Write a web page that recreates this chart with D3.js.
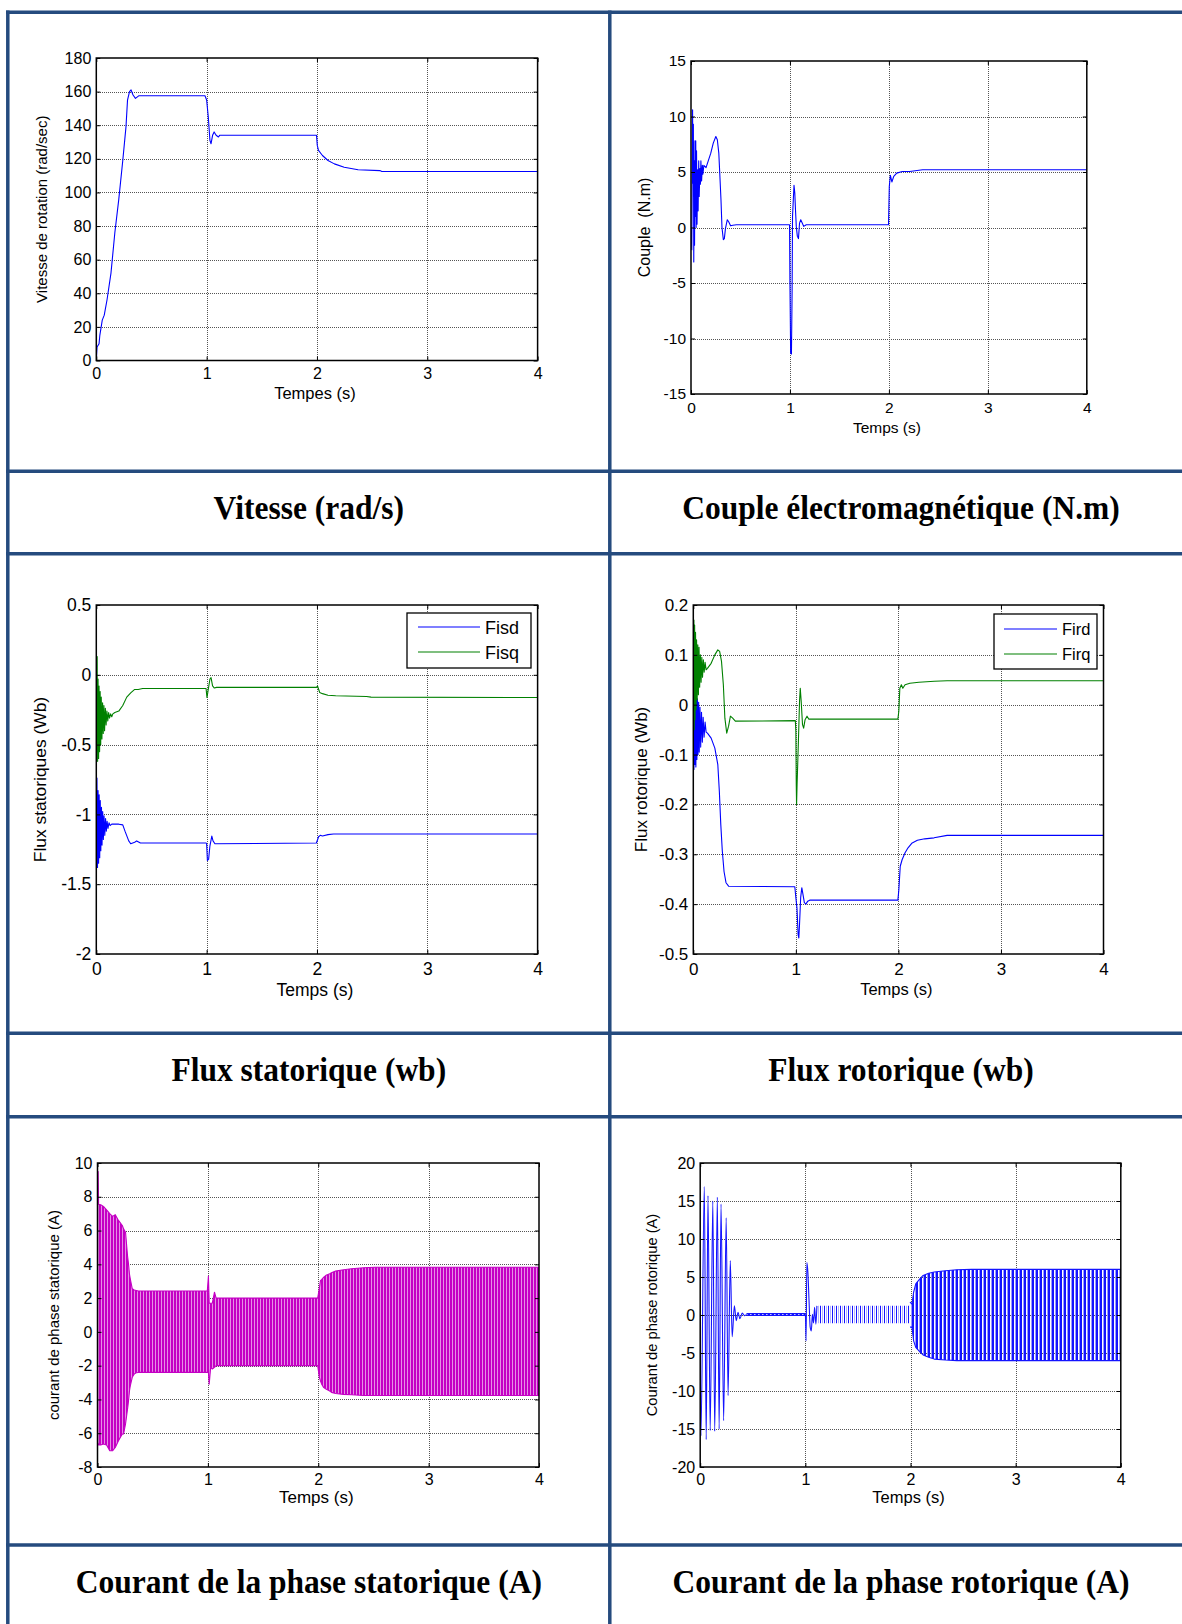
<!DOCTYPE html>
<html>
<head>
<meta charset="utf-8">
<script src="https://cdn.jsdelivr.net/npm/d3@7"></script>
<style>
body { margin: 0; background: #fff; }
svg { display: block; }
.caption { font-family: "Times New Roman", "Liberation Serif", serif; font-weight: bold; fill: #000; }
.lbl { font-family: Arial, "Liberation Sans", sans-serif; fill: #000; }
.grid { stroke: #555; stroke-width: 1; stroke-dasharray: 1,1; shape-rendering: crispEdges; }
</style>
</head>
<body>
<svg id="page" width="1182" height="1624"></svg>
<script>
// ticks
var timeTicks = [0, 1, 2, 3, 4]
var vitesseTicks = [0, 20, 40, 60, 80, 100, 120, 140, 160, 180]
var coupleTicks = [-15, -10, -5, 0, 5, 10, 15]
var fluxStatTicks = [-2, -1.5, -1, -0.5, 0, 0.5]
var fluxRotTicks = [-0.5, -0.4, -0.3, -0.2, -0.1, 0, 0.1, 0.2]
var courantStatTicks = [-8, -6, -4, -2, 0, 2, 4, 6, 8, 10]
var courantRotTicks = [-20, -15, -10, -5, 0, 5, 10, 15, 20]

var captions = ["Vitesse (rad/s)", "Couple électromagnétique (N.m)",
	"Flux statorique (wb)", "Flux rotorique (wb)",
	"Courant de la phase statorique (A)", "Courant de la phase rotorique (A)"]
var fluxStatNames = ["Fisd", "Fisq"]
var fluxRotNames = ["Fird", "Firq"]

// [t, value]
var vitesse = [[0,0],[0.007,8],[0.025,10],[0.032,15],[0.054,24],[0.072,27],[0.097,36],[0.133,52],
	[0.168,76],[0.204,96],[0.24,119],[0.269,139],[0.283,155],[0.301,160],[0.315,161],[0.333,158],
	[0.355,156],[0.384,157.5],[0.985,157.5],[1.0,155],[1.015,145],[1.03,131],[1.04,129],[1.054,134],
	[1.068,136],[1.086,134],[1.107,133],[1.118,134],[1.996,134],[2.003,128],[2.014,125],[2.05,122],
	[2.1,119],[2.158,117],[2.247,115],[2.373,113.5],[2.57,113],[2.588,112.5],[4,112.5]]

var couple = [[0,0],[0.008,-2],[0.016,10.6],[0.02,4],[0.024,9.3],[0.028,-3.1],[0.032,6],[0.036,-1.6],
	[0.04,7.8],[0.044,1],[0.048,7.8],[0.052,0],[0.056,6.9],[0.061,0.3],[0.067,5.2],[0.072,1.5],[0.078,6],
	[0.083,2.8],[0.09,5.3],[0.095,3.9],[0.1,6],[0.107,4.2],[0.115,5.6],[0.12,4.8],[0.13,5.6],[0.152,5.4],
	[0.2,6.7],[0.225,7.6],[0.251,8.2],[0.266,7.9],[0.281,6.7],[0.29,5],[0.303,2.5],[0.313,0],[0.327,-1.1],
	[0.337,-1],[0.348,-0.1],[0.367,0.7],[0.382,0.5],[0.4,0.15],[0.423,0.2],[0.46,0.25],[0.996,0.25],
	[1.0,-5],[1.007,-11.3],[1.015,-11.4],[1.022,-5.6],[1.026,1],[1.034,2.5],[1.041,3.8],[1.049,3.1],
	[1.056,1.6],[1.064,0.1],[1.075,-0.8],[1.086,-1],[1.097,0.4],[1.109,0.7],[1.124,0.4],[1.139,0.1],
	[1.165,0.25],[1.996,0.25],[2.004,3.7],[2.015,4.7],[2.03,4.1],[2.049,4.6],[2.079,4.9],[2.135,5.05],
	[2.21,5.05],[2.341,5.2],[4,5.2]]

var fisd = [[0,-1.62],[0.006,-0.74],[0.011,-1.38],[0.016,-0.83],[0.021,-1.35],[0.026,-0.86],[0.031,-1.31],
	[0.036,-0.9],[0.041,-1.26],[0.047,-0.95],[0.052,-1.22],[0.058,-0.98],[0.064,-1.18],[0.07,-1.01],
	[0.077,-1.15],[0.084,-1.03],[0.091,-1.12],[0.098,-1.05],[0.106,-1.1],[0.115,-1.06],[0.125,-1.08],
	[0.14,-1.07],[0.204,-1.07],[0.24,-1.075],[0.26,-1.12],[0.294,-1.19],[0.312,-1.21],[0.348,-1.2],
	[0.366,-1.19],[0.4,-1.205],[0.995,-1.205],[1.0,-1.21],[1.007,-1.33],[1.018,-1.32],[1.03,-1.225],
	[1.047,-1.155],[1.058,-1.19],[1.075,-1.21],[1.995,-1.205],[2.015,-1.16],[2.03,-1.15],[2.05,-1.155],
	[2.1,-1.145],[2.15,-1.14],[4,-1.14]]

var fisq = [[0,-0.69],[0.008,0.13],[0.012,-0.62],[0.016,-0.03],[0.021,-0.6],[0.025,-0.08],[0.03,-0.55],
	[0.035,-0.12],[0.04,-0.5],[0.045,-0.16],[0.051,-0.46],[0.057,-0.2],[0.063,-0.42],[0.069,-0.22],
	[0.075,-0.4],[0.082,-0.24],[0.089,-0.36],[0.096,-0.26],[0.104,-0.33],[0.112,-0.27],[0.12,-0.31],
	[0.13,-0.28],[0.14,-0.3],[0.15,-0.28],[0.168,-0.27],[0.204,-0.26],[0.24,-0.22],[0.276,-0.16],
	[0.312,-0.13],[0.348,-0.105],[0.38,-0.105],[0.42,-0.098],[0.995,-0.098],[1.003,-0.163],[1.03,-0.03],
	[1.04,-0.02],[1.054,-0.08],[1.07,-0.095],[1.09,-0.09],[1.995,-0.09],[2.005,-0.08],[2.025,-0.127],
	[2.05,-0.135],[2.1,-0.146],[2.17,-0.15],[2.45,-0.155],[2.49,-0.16],[4,-0.163]]

var fird = [[0,0],[0.006,-0.13],[0.01,0.0],[0.015,-0.12],[0.02,0.01],[0.025,-0.125],[0.03,0.015],
	[0.035,-0.11],[0.04,0.012],[0.046,-0.1],[0.052,0.005],[0.058,-0.095],[0.065,-0.005],[0.072,-0.085],
	[0.08,-0.015],[0.088,-0.075],[0.096,-0.025],[0.105,-0.065],[0.115,-0.035],[0.125,-0.055],[0.138,-0.057],
	[0.174,-0.067],[0.21,-0.087],[0.239,-0.12],[0.254,-0.174],[0.268,-0.24],[0.283,-0.294],[0.3,-0.335],
	[0.319,-0.357],[0.344,-0.364],[0.99,-0.365],[1.0,-0.387],[1.011,-0.408],[1.022,-0.461],[1.029,-0.468],
	[1.036,-0.44],[1.047,-0.387],[1.058,-0.367],[1.069,-0.38],[1.083,-0.397],[1.098,-0.4],[1.116,-0.394],
	[1.135,-0.392],[1.995,-0.392],[2.004,-0.372],[2.018,-0.324],[2.036,-0.311],[2.065,-0.297],[2.094,-0.287],
	[2.13,-0.278],[2.185,-0.272],[2.257,-0.269],[2.348,-0.267],[2.475,-0.262],[4,-0.262]]

var firq = [[0,-0.03],[0.006,0.17],[0.009,-0.05],[0.013,0.16],[0.017,-0.03],[0.022,0.145],[0.027,-0.01],
	[0.032,0.13],[0.038,0.01],[0.044,0.12],[0.05,0.02],[0.056,0.115],[0.062,0.035],[0.069,0.1],[0.076,0.045],
	[0.083,0.095],[0.09,0.055],[0.098,0.09],[0.106,0.065],[0.115,0.085],[0.125,0.07],[0.138,0.073],
	[0.174,0.083],[0.21,0.1],[0.239,0.11],[0.257,0.107],[0.275,0.087],[0.293,0.04],[0.308,-0.027],
	[0.326,-0.057],[0.344,-0.043],[0.362,-0.023],[0.384,-0.027],[0.41,-0.033],[0.995,-0.032],[1.0,-0.053],
	[1.004,-0.16],[1.007,-0.2],[1.012,-0.16],[1.025,-0.073],[1.036,0.007],[1.043,0.033],[1.052,0.007],
	[1.065,-0.04],[1.076,-0.047],[1.09,-0.03],[1.109,-0.023],[1.127,-0.029],[1.995,-0.029],[2.004,-0.013],
	[2.014,0.033],[2.029,0.04],[2.043,0.033],[2.065,0.04],[2.112,0.043],[2.2,0.045],[2.35,0.047],
	[2.475,0.048],[4,0.048]]

// [t, upper, lower] envelope of the fast stator current oscillation
var isEnvelope = [[0,9.5,-6.6],[0.006,9.5,-6.6],[0.01,7.55,-6.7],[0.029,7.53,-6.7],[0.054,7.43,-6.64],
	[0.082,7.23,-6.7],[0.111,7.0,-7.04],[0.136,6.84,-7.04],[0.161,6.94,-6.84],[0.19,6.6,-6.44],
	[0.225,6.3,-6.05],[0.236,6.1,-6.05],[0.254,5.9,-5.45],[0.272,4.5,-4.57],[0.279,4.13,-4.2],
	[0.29,3.4,-3.48],[0.297,3.14,-3.2],[0.315,2.55,-2.69],[0.333,2.48,-2.49],[0.351,2.45,-2.42],
	[0.37,2.42,-2.4],[0.995,2.42,-2.4],[1.005,3.3,-2.4],[1.012,1.7,-3.1],[1.025,1.7,-2.1],[1.04,1.7,-2.2],
	[1.06,2.35,-2.1],[1.075,2.0,-2.0],[1.995,2.0,-2.0],[2.01,2.6,-2.69],[2.02,3.04,-2.9],[2.03,3.1,-3.08],
	[2.05,3.24,-3.3],[2.07,3.35,-3.38],[2.104,3.44,-3.5],[2.12,3.5,-3.58],[2.157,3.6,-3.65],[2.23,3.68,-3.7],
	[2.3,3.74,-3.72],[2.41,3.8,-3.77],[2.515,3.83,-3.77],[4,3.83,-3.77]]

// rotor current: single swings where they can be read, envelopes elsewhere
var irStart = [[0,0],[0.007,-15.9],[0.039,16.9],[0.057,-16.4],[0.074,15.7],[0.095,-15.2],[0.12,15.0],
	[0.138,-15.3],[0.163,15.5],[0.18,-15.0],[0.198,14.6],[0.223,-13.9],[0.247,12.8],[0.265,-10.6],
	[0.286,7.15],[0.304,-2.85],[0.325,1.2],[0.343,-0.75],[0.36,0.35],[0.378,-0.5],[0.4,0.25],[0.424,-0.1],
	[0.44,0.1]]
var irRipple = [[0.44,0.2,-0.05],[0.998,0.2,-0.05]]
var irStep = [[0.995,0.1],[1.0,0.1],[1.007,-3.4],[1.014,6.9],[1.025,5.4],[1.035,1.9],[1.046,-1.6],
	[1.057,-2.1],[1.067,0.1],[1.078,-1.05],[1.088,1.0],[1.1,-1.2],[1.11,1.2]]
var irLoadRipple = [[1.11,1.23,-1.1],[1.995,1.23,-1.1]]
var irEnvelope = [[1.995,1.7,-1.6],[2.014,1.45,-1.6],[2.03,3.0,-3.4],[2.05,4.1,-4.25],[2.085,4.7,-4.8],
	[2.12,5.2,-5.26],[2.173,5.5,-5.57],[2.226,5.66,-5.8],[2.332,5.83,-5.92],[2.44,5.96,-6.0],[2.58,6.0,-6.0],
	[4,6.0,-6.0]]

var svg = d3.select("#page")
var defs = svg.append("defs")

//hatch fills that stand for the dense oscillation inside an envelope
function hatch(id, w, stripes) {
	var pat = defs.append("pattern").attr("id", id).attr("patternUnits", "userSpaceOnUse")
		.attr("width", w).attr("height", 8)
	stripes.forEach(function(s) {
		pat.append("rect").attr("x", s[0]).attr("width", s[1]).attr("height", 8).attr("fill", s[2])
	})
}
hatch("hatchMag", 3, [[0, 2, "#c400c4"], [2, 1, "#e590e5"]])
hatch("hatchBlue", 4, [[0, 2, "#1414ff"], [3, 1, "#9a9aff"]])
hatch("hatchBlueThin", 4, [[0, 1, "#1414ff"], [2, 1, "#b4b4ff"]])

//table frame
var frameColor = "#254b7e"
var rowLines = [12.3, 471.3, 553.7, 1033.3, 1116.7, 1545]
var colLines = [7.8, 609.8]
svg.append("g").selectAll("line").data(rowLines).enter().append("line")
	.attr("x1", 6).attr("x2", 1182).attr("y1", d => d).attr("y2", d => d)
	.attr("stroke", frameColor).attr("stroke-width", 3.5)
svg.append("g").selectAll("line").data(colLines).enter().append("line")
	.attr("x1", d => d).attr("x2", d => d).attr("y1", 10.5).attr("y2", 1624)
	.attr("stroke", frameColor).attr("stroke-width", 3.5)

//captions
var capX = [308.8, 901]
var capY = [519, 1081, 1593]
svg.append("g").selectAll("text").data(captions).enter().append("text")
	.attr("class", "caption")
	.attr("transform", (d, i) => "translate(" + capX[i % 2] + "," + capY[Math.floor(i / 2)] + ") scale(1,1.07)")
	.attr("text-anchor", "middle")
	.attr("font-size", 31.5)
	.text(d => d)

var fmt = d => String(d)

function drawPanel(p) {
	var x = d3.scaleLinear().domain([0, 4]).range([p.left, p.right])
	var y = d3.scaleLinear().domain(d3.extent(p.yTicks)).range([p.bottom, p.top])
	var g = svg.append("g")

	defs.append("clipPath").attr("id", "clip" + p.id).append("rect")
		.attr("x", p.left).attr("y", p.top)
		.attr("width", p.right - p.left).attr("height", p.bottom - p.top)

	//grid
	g.append("g").selectAll("line").data(timeTicks.slice(1, -1)).enter().append("line")
		.attr("class", "grid")
		.attr("x1", d => Math.round(x(d)) + 0.5).attr("x2", d => Math.round(x(d)) + 0.5)
		.attr("y1", p.top).attr("y2", p.bottom)
	g.append("g").selectAll("line").data(p.yTicks.slice(1, -1)).enter().append("line")
		.attr("class", "grid")
		.attr("y1", d => Math.round(y(d)) + 0.5).attr("y2", d => Math.round(y(d)) + 0.5)
		.attr("x1", p.left).attr("x2", p.right)

	var plot = g.append("g").attr("clip-path", "url(#clip" + p.id + ")")
	p.draw(plot, x, y)

	//axes, ticks inside on all four sides
	var bottom = g.append("g").attr("transform", "translate(0," + p.bottom + ")")
		.call(d3.axisBottom(x).tickValues(timeTicks).tickFormat(fmt)
			.tickSizeInner(-4).tickSizeOuter(0).tickPadding(p.xTickDy - 0.71 * p.fs))
	var left = g.append("g").attr("transform", "translate(" + p.left + ",0)")
		.call(d3.axisLeft(y).tickValues(p.yTicks).tickFormat(fmt)
			.tickSizeInner(-4).tickSizeOuter(0).tickPadding(5))
	var top = g.append("g").attr("transform", "translate(0," + p.top + ")")
		.call(d3.axisTop(x).tickValues(timeTicks).tickFormat("").tickSizeInner(-4).tickSizeOuter(0))
	var right = g.append("g").attr("transform", "translate(" + p.right + ",0)")
		.call(d3.axisRight(y).tickValues(p.yTicks).tickFormat("").tickSizeInner(-4).tickSizeOuter(0))
	;[bottom, left, top, right].forEach(function(a) {
		a.attr("font-size", p.fs).attr("font-family", "Arial, 'Liberation Sans', sans-serif")
		a.select(".domain").remove()
		a.selectAll("text").attr("fill", "#000")
	})

	g.append("rect")
		.attr("x", p.left).attr("y", p.top)
		.attr("width", p.right - p.left).attr("height", p.bottom - p.top)
		.attr("fill", "none").attr("stroke", "#000").attr("stroke-width", 1.5)

	g.append("text").attr("class", "lbl")
		.attr("x", (p.left + p.right) / 2 - 2).attr("y", p.bottom + p.xLabelDy)
		.attr("text-anchor", "middle").attr("font-size", p.xLabelFs)
		.text(p.xLabel)

	g.append("text").attr("class", "lbl")
		.attr("transform", "translate(" + p.yLabelX + "," + (p.top + p.bottom) / 2 + ") rotate(-90)")
		.attr("text-anchor", "middle").attr("font-size", p.yLabelFs)
		.style("white-space", "pre")
		.text(p.yLabel)

	if (p.legend) {
		var L = p.legend
		var lg = g.append("g")
		lg.append("rect").attr("x", L.x).attr("y", L.y).attr("width", L.w).attr("height", L.h)
			.attr("fill", "#fff").attr("stroke", "#000").attr("stroke-width", 1.3)
		var item = lg.selectAll("g").data(L.names).enter().append("g")
		item.append("line")
			.attr("x1", L.x + L.lineX0).attr("x2", L.x + L.lineX1)
			.attr("y1", (d, i) => L.y + L.rowY[i]).attr("y2", (d, i) => L.y + L.rowY[i])
			.attr("stroke", (d, i) => L.colors[i]).attr("stroke-width", 1.1)
		item.append("text").attr("class", "lbl")
			.attr("x", L.x + L.lineX1 + 5).attr("y", (d, i) => L.y + L.rowY[i] + 0.38 * L.fs)
			.attr("font-size", L.fs)
			.text(d => d)
	}
}

function addLine(sel, data, x, y, color, curve) {
	var line = d3.line().x(d => x(d[0])).y(d => y(d[1]))
	if (curve) line.curve(curve)
	sel.append("path").datum(data)
		.attr("d", line)
		.attr("fill", "none").attr("stroke", color).attr("stroke-width", 1.1)
		.attr("stroke-linejoin", "round")
}

//edges=false leaves the envelope unstroked (small ripple)
function addBand(sel, data, x, y, pattern, color, edges) {
	var area = d3.area().x(d => x(d[0])).y0(d => y(d[2])).y1(d => y(d[1]))
	sel.append("path").datum(data).attr("d", area).attr("fill", "url(#" + pattern + ")")
	if (edges === false) return
	addLine(sel, data.map(d => [d[0], d[1]]), x, y, color)
	addLine(sel, data.map(d => [d[0], d[2]]), x, y, color)
}

drawPanel({
	id: 1, left: 96.3, right: 537.6, top: 58, bottom: 360.5, yTicks: vitesseTicks,
	fs: 16, xTickDy: 18.5, xLabel: "Tempes (s)", xLabelFs: 16.5, xLabelDy: 38.5,
	yLabel: "Vitesse de rotation (rad/sec)", yLabelFs: 15, yLabelX: 47,
	draw: function(g, x, y) { addLine(g, vitesse, x, y, "#0000ff") }
})

drawPanel({
	id: 2, left: 691, right: 1086.8, top: 61, bottom: 394, yTicks: coupleTicks,
	fs: 15.5, xTickDy: 19, xLabel: "Temps (s)", xLabelFs: 15.5, xLabelDy: 39,
	yLabel: "Couple  (N.m)", yLabelFs: 16, yLabelX: 650,
	draw: function(g, x, y) { addLine(g, couple, x, y, "#0000ff") }
})

drawPanel({
	id: 3, left: 96.3, right: 537.6, top: 605, bottom: 954, yTicks: fluxStatTicks,
	fs: 17.5, xTickDy: 21, xLabel: "Temps (s)", xLabelFs: 17.5, xLabelDy: 42,
	yLabel: "Flux statoriques (Wb)", yLabelFs: 17.4, yLabelX: 45.5,
	legend: { x: 407, y: 613, w: 124, h: 55, names: fluxStatNames, colors: ["#0000ff", "#008000"],
		lineX0: 11, lineX1: 73, rowY: [14, 39], fs: 18 },
	draw: function(g, x, y) {
		addLine(g, fisd, x, y, "#0000ff")
		addLine(g, fisq, x, y, "#008000")
	}
})

drawPanel({
	id: 4, left: 693.3, right: 1103.5, top: 605, bottom: 954, yTicks: fluxRotTicks,
	fs: 17, xTickDy: 21, xLabel: "Temps (s)", xLabelFs: 16.5, xLabelDy: 41,
	yLabel: "Flux rotorique (Wb)", yLabelFs: 17, yLabelX: 647,
	legend: { x: 994, y: 614, w: 103, h: 55, names: fluxRotNames, colors: ["#0000ff", "#008000"],
		lineX0: 10, lineX1: 63, rowY: [15, 40], fs: 16.5 },
	draw: function(g, x, y) {
		addLine(g, fird, x, y, "#0000ff")
		addLine(g, firq, x, y, "#008000")
	}
})

drawPanel({
	id: 5, left: 97.5, right: 539, top: 1163, bottom: 1467, yTicks: courantStatTicks,
	fs: 16, xTickDy: 18, xLabel: "Temps (s)", xLabelFs: 17, xLabelDy: 36,
	yLabel: "courant de phase statorique (A)", yLabelFs: 15, yLabelX: 59,
	draw: function(g, x, y) { addBand(g, isEnvelope, x, y, "hatchMag", "#c400c4") }
})

drawPanel({
	id: 6, left: 700.2, right: 1120.8, top: 1163, bottom: 1467, yTicks: courantRotTicks,
	fs: 16, xTickDy: 18, xLabel: "Temps (s)", xLabelFs: 16.5, xLabelDy: 36,
	yLabel: "Courant de phase rotorique (A)", yLabelFs: 14.7, yLabelX: 657,
	draw: function(g, x, y) {
		addLine(g, irStart, x, y, "#1414ff", d3.curveMonotoneX)
		addBand(g, irRipple, x, y, "hatchBlue", "#1414ff")
		addLine(g, irStep, x, y, "#1414ff", d3.curveMonotoneX)
		addBand(g, irLoadRipple, x, y, "hatchBlueThin", "#1414ff", false)
		addBand(g, irEnvelope, x, y, "hatchBlue", "#1414ff")
	}
})
</script>
</body>
</html>
